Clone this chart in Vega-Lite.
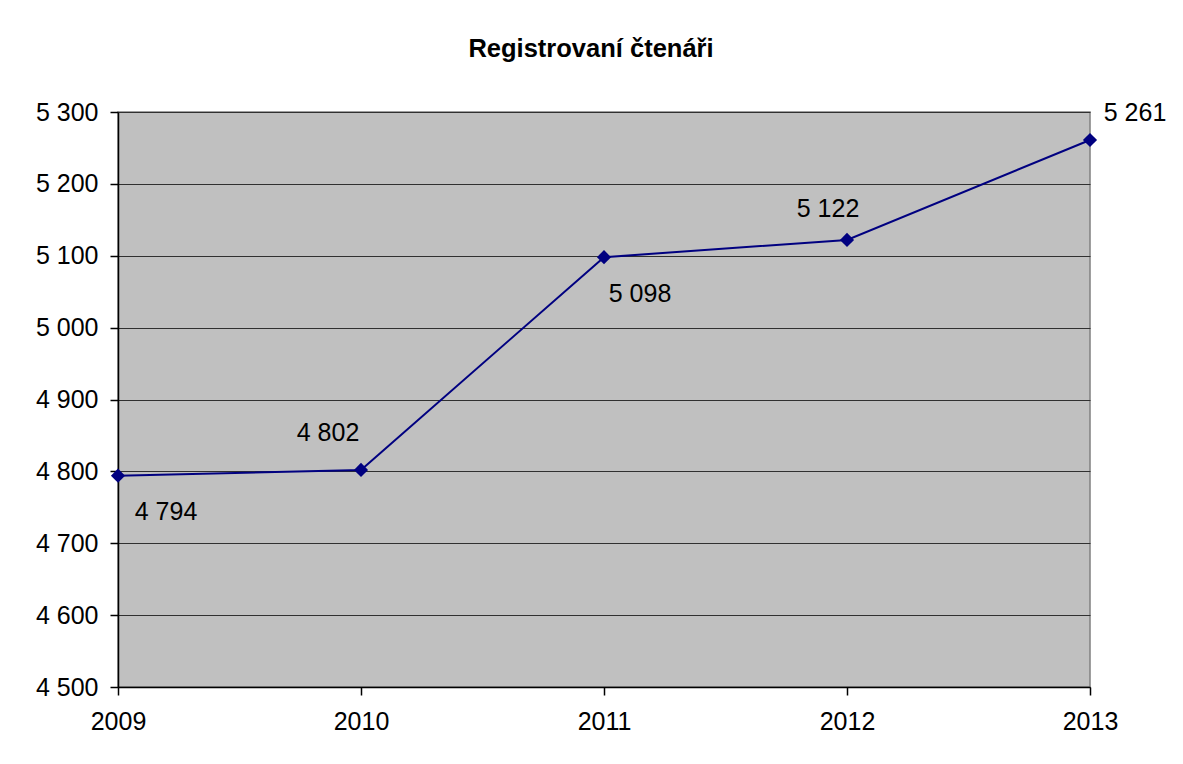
{
  "$schema": "https://vega.github.io/schema/vega-lite/v6.json",
  "width": 972,
  "height": 575,
  "autosize": {"type": "none"},
  "padding": {"left": 118, "top": 112, "right": 93, "bottom": 77},
  "background": "white",
  "title": {
    "text": "Registrovaní čtenáři",
    "font": "Liberation Sans",
    "fontSize": 25.5,
    "fontWeight": "bold",
    "color": "black",
    "anchor": "middle",
    "offset": 38,
    "dx": -13
  },
  "data": {
    "values": [
      {"year": "2009", "readers": 4794},
      {"year": "2010", "readers": 4802},
      {"year": "2011", "readers": 5098},
      {"year": "2012", "readers": 5122},
      {"year": "2013", "readers": 5261}
    ]
  },
  "encoding": {
    "x": {
      "field": "year",
      "type": "ordinal",
      "scale": {"type": "point", "padding": 0},
      "axis": {
        "title": null,
        "labelAngle": 0,
        "grid": false,
        "tickSize": 8,
        "tickColor": "black",
        "domainColor": "black",
        "labelPadding": 14,
        "labelFontSize": 25
      }
    },
    "y": {
      "field": "readers",
      "type": "quantitative",
      "scale": {"domain": [4500, 5300], "nice": false, "zero": false},
      "axis": {
        "title": null,
        "values": [4500, 4600, 4700, 4800, 4900, 5000, 5100, 5200, 5300],
        "format": ",d",
        "grid": true,
        "gridColor": "#303030",
        "gridOpacity": 1,
        "tickSize": 8,
        "tickColor": "black",
        "domainColor": "black",
        "labelPadding": 12,
        "labelFontSize": 25
      }
    }
  },
  "layer": [
    {
      "mark": {
        "type": "line",
        "color": "#000080",
        "strokeWidth": 2,
        "point": {"shape": "diamond", "size": 200, "color": "#000080", "filled": true, "opacity": 1}
      }
    },
    {
      "transform": [{"filter": "datum.year == '2009'"}],
      "mark": {"type": "text", "align": "center", "baseline": "middle", "dx": 48, "dy": 36, "fontSize": 25, "font": "Liberation Sans", "color": "black"},
      "encoding": {"text": {"field": "readers", "type": "quantitative", "format": ",d"}}
    },
    {
      "transform": [{"filter": "datum.year == '2010'"}],
      "mark": {"type": "text", "align": "center", "baseline": "middle", "dx": -33, "dy": -37, "fontSize": 25, "font": "Liberation Sans", "color": "black"},
      "encoding": {"text": {"field": "readers", "type": "quantitative", "format": ",d"}}
    },
    {
      "transform": [{"filter": "datum.year == '2011'"}],
      "mark": {"type": "text", "align": "center", "baseline": "middle", "dx": 36, "dy": 37, "fontSize": 25, "font": "Liberation Sans", "color": "black"},
      "encoding": {"text": {"field": "readers", "type": "quantitative", "format": ",d"}}
    },
    {
      "transform": [{"filter": "datum.year == '2012'"}],
      "mark": {"type": "text", "align": "center", "baseline": "middle", "dx": -19, "dy": -31, "fontSize": 25, "font": "Liberation Sans", "color": "black"},
      "encoding": {"text": {"field": "readers", "type": "quantitative", "format": ",d"}}
    },
    {
      "transform": [{"filter": "datum.year == '2013'"}],
      "mark": {"type": "text", "align": "center", "baseline": "middle", "dx": 45, "dy": -27, "fontSize": 25, "font": "Liberation Sans", "color": "black", "clip": false},
      "encoding": {"text": {"field": "readers", "type": "quantitative", "format": ",d"}}
    }
  ],
  "config": {
    "locale": {
      "number": {"decimal": ",", "thousands": " ", "grouping": [3], "currency": ["", " Kč"]}
    },
    "font": "Liberation Sans",
    "view": {"stroke": "#808080", "strokeWidth": 1.5, "fill": "#C0C0C0"},
    "axis": {
      "labelFont": "Liberation Sans",
      "labelColor": "black",
      "domainWidth": 1.5,
      "tickWidth": 1.5
    }
  }
}
